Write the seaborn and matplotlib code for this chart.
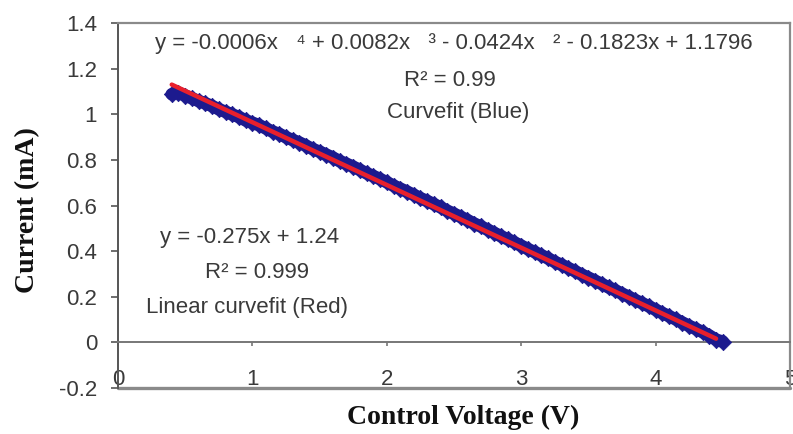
import matplotlib
matplotlib.use("Agg")
import matplotlib.pyplot as plt
import seaborn as sns
import pandas as pd

# Measured current versus control voltage
voltage = [0.40, 0.45, 0.50, 0.55, 0.60, 0.65, 0.70, 0.75, 0.80, 0.85, 0.90, 0.95,
           1.00, 1.05, 1.10, 1.15, 1.20, 1.25, 1.30, 1.35, 1.40, 1.45, 1.50, 1.55,
           1.60, 1.65, 1.70, 1.75, 1.80, 1.85, 1.90, 1.95, 2.00, 2.05, 2.10, 2.15,
           2.20, 2.25, 2.30, 2.35, 2.40, 2.45, 2.50, 2.55, 2.60, 2.65, 2.70, 2.75,
           2.80, 2.85, 2.90, 2.95, 3.00, 3.05, 3.10, 3.15, 3.20, 3.25, 3.30, 3.35,
           3.40, 3.45, 3.50, 3.55, 3.60, 3.65, 3.70, 3.75, 3.80, 3.85, 3.90, 3.95,
           4.00, 4.05, 4.10, 4.15, 4.20, 4.25, 4.30, 4.35, 4.40, 4.45, 4.50]
current = [1.088, 1.095, 1.082, 1.070, 1.058, 1.048, 1.036, 1.022, 1.011, 0.999, 0.988, 0.973,
           0.963, 0.952, 0.938, 0.924, 0.914, 0.899, 0.887, 0.876, 0.862, 0.847, 0.836, 0.823,
           0.810, 0.794, 0.783, 0.770, 0.756, 0.741, 0.729, 0.716, 0.702, 0.687, 0.674, 0.661,
           0.647, 0.632, 0.620, 0.606, 0.592, 0.577, 0.564, 0.550, 0.536, 0.521, 0.508, 0.494,
           0.480, 0.465, 0.452, 0.438, 0.424, 0.409, 0.396, 0.382, 0.368, 0.353, 0.340, 0.326,
           0.312, 0.297, 0.284, 0.270, 0.256, 0.241, 0.228, 0.214, 0.200, 0.185, 0.172, 0.158,
           0.143, 0.129, 0.115, 0.101, 0.087, 0.072, 0.059, 0.045, 0.030, 0.012, 0.003]

# Linear fit stated on the chart
lin_slope = -0.275
lin_intercept = 1.24
lin_range = [0.40, 4.45]

x_ticks = [0, 1, 2, 3, 4, 5]
y_ticks = [-0.2, 0.0, 0.2, 0.4, 0.6, 0.8, 1.0, 1.2, 1.4]
y_tick_labels = ["-0.2", "0", "0.2", "0.4", "0.6", "0.8", "1", "1.2", "1.4"]

poly_text = "y = -0.0006x   \u2074 + 0.0082x   \u00b3 - 0.0424x   \u00b2 - 0.1823x + 1.1796"
poly_r2 = "R\u00b2 = 0.99"
poly_note = "Curvefit (Blue)"
lin_text = "y = -0.275x + 1.24"
lin_r2 = "R\u00b2 = 0.999"
lin_note = "Linear curvefit (Red)"

sns.set_theme(style="white")
plt.rcParams["font.family"] = ["Liberation Sans", "DejaVu Sans"]

data = pd.DataFrame({"voltage": voltage, "current": current})
fit = pd.DataFrame({"voltage": lin_range,
                    "current": [lin_slope * v + lin_intercept for v in lin_range]})

fig = plt.figure(figsize=(7.93, 4.34), dpi=100)
ax = fig.add_axes([118 / 793, 1 - 388 / 434, (790 - 118) / 793, (388 - 23) / 434])

navy = "#1c1a8e"
sns.lineplot(data=data, x="voltage", y="current", ax=ax, color=navy,
             linewidth=9, solid_capstyle="round", zorder=2)
sns.scatterplot(data=data, x="voltage", y="current", ax=ax, color=navy,
                marker="D", s=70, edgecolor=navy, linewidth=0.5, zorder=3)
sns.lineplot(data=fit, x="voltage", y="current", ax=ax, color="#e8202c",
             linewidth=3.2, zorder=4)

ax.set_xlim(0, 5)
ax.set_ylim(-0.2, 1.4)

frame = "#8a8a8a"
for side in ["top", "right"]:
    ax.spines[side].set_color(frame)
    ax.spines[side].set_linewidth(1.6)
ax.spines["left"].set_color("#555555")
ax.spines["left"].set_linewidth(1.4)
ax.spines["bottom"].set_position(("data", 0))
ax.spines["bottom"].set_color("#777777")
ax.spines["bottom"].set_linewidth(1.4)
ax.axhline(-0.2, color=frame, linewidth=2.4, clip_on=False, zorder=1)

ax.set_xticks(x_ticks)
ax.set_xticklabels([str(t) for t in x_ticks])
ax.set_yticks(y_ticks)
ax.set_yticklabels(y_tick_labels)
ax.tick_params(axis="y", direction="out", length=5, width=1.2, color="#555555",
               labelsize=16, labelcolor="#3a3a3a", pad=10, left=True)
ax.tick_params(axis="x", direction="out", length=3, width=1.2, color="#777777",
               labelsize=16, labelcolor="#3a3a3a", pad=16.5, bottom=True)

ax.set_xlabel("")
ax.set_ylabel("")
fig.text(0.5 * (343 + 583) / 793, 1 - 417 / 434, "Control Voltage (V)",
         family="Liberation Serif", fontweight="bold", fontsize=20,
         ha="center", va="center", color="#111111")
fig.text(28 / 793, 1 - 210 / 434, "Current (mA)", rotation=90,
         family="Liberation Serif", fontweight="bold", fontsize=20,
         ha="center", va="center", color="#111111")

txt = dict(ha="center", va="center", fontsize=16, color="#3a3a3a",
           family=["Liberation Sans", "DejaVu Sans"], transform=fig.transFigure)
ax.text(454 / 793, 1 - 44 / 434, poly_text, **txt)
ax.text(450 / 793, 1 - 80 / 434, poly_r2, **txt)
ax.text(458 / 793, 1 - 113 / 434, poly_note, **txt)
ax.text(250 / 793, 1 - 238 / 434, lin_text, **txt)
ax.text(257 / 793, 1 - 272 / 434, lin_r2, **txt)
ax.text(247 / 793, 1 - 307 / 434, lin_note, **txt)

fig.savefig("out.png", dpi=100, facecolor="white")
